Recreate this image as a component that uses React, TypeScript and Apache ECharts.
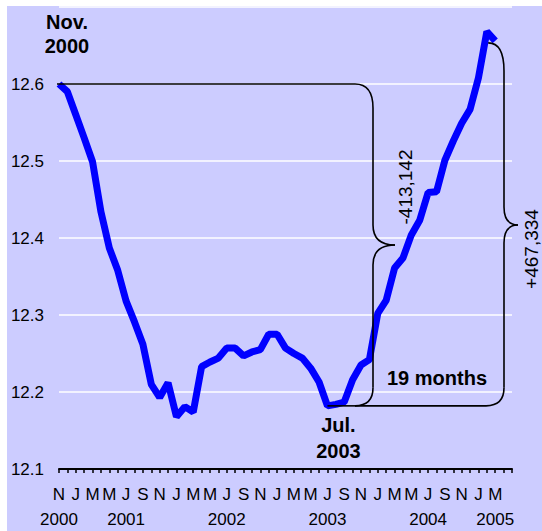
import React, { useEffect, useRef } from "react";
import * as echarts from "echarts";

const categories = [
  "Nov 2000", "Dec 2000",
  "Jan 2001", "Feb 2001", "Mar 2001", "Apr 2001", "May 2001", "Jun 2001", "Jul 2001", "Aug 2001", "Sep 2001", "Oct 2001", "Nov 2001", "Dec 2001",
  "Jan 2002", "Feb 2002", "Mar 2002", "Apr 2002", "May 2002", "Jun 2002", "Jul 2002", "Aug 2002", "Sep 2002", "Oct 2002", "Nov 2002", "Dec 2002",
  "Jan 2003", "Feb 2003", "Mar 2003", "Apr 2003", "May 2003", "Jun 2003", "Jul 2003", "Aug 2003", "Sep 2003", "Oct 2003", "Nov 2003", "Dec 2003",
  "Jan 2004", "Feb 2004", "Mar 2004", "Apr 2004", "May 2004", "Jun 2004", "Jul 2004", "Aug 2004", "Sep 2004", "Oct 2004", "Nov 2004", "Dec 2004",
  "Jan 2005", "Feb 2005", "Mar 2005", "Apr 2005", "May 2005",
];

// log values, Nov 2000 .. Mar 2005
const values = [
  12.600, 12.590, 12.560, 12.530, 12.499, 12.434, 12.387, 12.358, 12.318, 12.291,
  12.262, 12.210, 12.193, 12.212, 12.168, 12.181, 12.174, 12.233, 12.239, 12.244,
  12.257, 12.257, 12.247, 12.252, 12.255, 12.275, 12.275, 12.257, 12.250, 12.244,
  12.231, 12.213, 12.182, 12.184, 12.187, 12.216, 12.235, 12.242, 12.302, 12.319,
  12.361, 12.374, 12.404, 12.423, 12.459, 12.460, 12.501, 12.526, 12.549, 12.567,
  12.608, 12.668, 12.656,
];

const yearLabels: Record<string, string> = {
  "Nov 2000": "2000",
  "Jul 2001": "2001",
  "Jul 2002": "2002",
  "Jul 2003": "2003",
  "Jul 2004": "2004",
  "Mar 2005": "2005",
};

const startMonth = "Nov 2000";
const lowMonth = "Jul 2003";
const startLabel = ["Nov.", "2000"];
const lowLabel = ["Jul.", "2003"];
const declineText = "-413,142";
const riseText = "+467,334";
const spanText = "19 months";

const FONT = "'Liberation Sans', Arial, sans-serif";

export default function App() {
  const ref = useRef<HTMLDivElement>(null);
  useEffect(() => {
    if (!ref.current) return;
    const chart = echarts.init(ref.current, null, { renderer: "svg" });
    const lastIdx = values.length - 1;
    const labelBase = { color: "#000", fontSize: 17, fontFamily: FONT };
    chart.setOption({
      animation: false,
      backgroundColor: "#ffffff",
      grid: { left: 59, right: 30, top: 7, bottom: 62 },
      xAxis: [
        {
          type: "category",
          data: categories,
          boundaryGap: false,
          axisLine: { lineStyle: { color: "#000", width: 2 } },
          axisTick: { show: true, interval: 0, length: 4, lineStyle: { color: "#000", width: 1.5 } },
          axisLabel: {
            ...labelBase,
            interval: (i: number) => i % 2 === 0 && i <= lastIdx,
            showMinLabel: true,
            showMaxLabel: true,
            margin: 17,
            formatter: (v: string, idx: number) => (idx > lastIdx ? "" : v.charAt(0)),
          },
          splitLine: { show: false },
        },
        {
          type: "category",
          data: categories,
          boundaryGap: false,
          position: "bottom",
          axisLine: { show: false },
          axisTick: { show: false },
          axisLabel: {
            ...labelBase,
            interval: (i: number) => !!yearLabels[categories[i]],
            showMinLabel: true,
            showMaxLabel: true,
            margin: 42,
            formatter: (v: string) => yearLabels[v] || "",
          },
          splitLine: { show: false },
        },
      ],
      yAxis: {
        type: "value",
        min: 12.1,
        max: 12.7,
        interval: 0.1,
        axisLine: { show: false },
        axisTick: { show: false },
        axisLabel: {
          ...labelBase,
          margin: 15,
          showMaxLabel: false,
          formatter: (v: number) => v.toFixed(1),
        },
        splitLine: { lineStyle: { color: "#ffffff", width: 1.5 } },
      },
      series: [
        {
          type: "line",
          data: values,
          showSymbol: false,
          lineStyle: { color: "#0000ff", width: 7 },
          itemStyle: { color: "#0000ff" },
          z: 3,
        },
      ],
    });

    const toPx = (i: number, v: number) =>
      chart.convertToPixel({ xAxisIndex: 0, yAxisIndex: 0 }, [i, v]) as number[];
    const lowIdx = categories.indexOf(lowMonth);
    const startIdx = categories.indexOf(startMonth);
    const [xMin, yMin] = toPx(lowIdx, values[lowIdx]);
    const [x0, y126] = toPx(startIdx, values[startIdx]);
    const [xEnd, yEnd] = toPx(lastIdx, values[lastIdx]);

    const stroke = { stroke: "#000", lineWidth: 1.6, fill: null };
    const ln = (x1: number, y1: number, x2: number, y2: number) => ({
      type: "line", z: 10, silent: true, shape: { x1, y1, x2, y2 }, style: stroke,
    });
    const bz = (x1: number, y1: number, cx: number, cy: number, x2: number, y2: number) => ({
      type: "bezierCurve", z: 10, silent: true,
      shape: { x1, y1, x2, y2, cpx1: cx, cpy1: cy }, style: stroke,
    });
    const txt = (text: string, x: number, y: number, size: number, bold: boolean, rot = 0) => ({
      type: "text", z: 11, silent: true, x, y, rotation: rot,
      style: {
        text, fill: "#000", fontSize: size, fontWeight: bold ? "bold" : "normal",
        fontFamily: FONT, align: "center", verticalAlign: "middle",
      },
    });

    const xL = 373, tipL = 395, yTipL = 245;
    const xR = 504, tipR = 518, yTipR = 225;

    chart.setOption({
      graphic: [
        { type: "rect", z: -100, silent: true, shape: { x: 7, y: 6, width: 542, height: 531 }, style: { fill: "#ccccff" } },
        // left brace
        ln(x0 - 2, y126, 355, y126),
        bz(355, y126, xL, y126, xL, y126 + 24),
        ln(xL, y126 + 24, xL, yTipL - 20),
        bz(xL, yTipL - 20, xL, yTipL, tipL, yTipL),
        bz(tipL, yTipL, xL, yTipL, xL, yTipL + 20),
        ln(xL, yTipL + 20, xL, yMin - 18),
        bz(xL, yMin - 18, xL, yMin, 355, yMin),
        ln(355, yMin, xMin, yMin),
        // right brace
        bz(xEnd - 7, yEnd + 2, xR, yEnd + 2, xR, yEnd + 30),
        ln(xR, yEnd + 30, xR, yTipR - 18),
        bz(xR, yTipR - 18, xR, yTipR, tipR, yTipR),
        bz(tipR, yTipR, xR, yTipR, xR, yTipR + 18),
        ln(xR, yTipR + 18, xR, yMin - 18),
        bz(xR, yMin - 18, xR, yMin, xR - 18, yMin),
        ln(xR - 18, yMin, 355, yMin),
        // texts
        txt(startLabel[0], 67, 22, 20, true),
        txt(startLabel[1], 67, 46, 20, true),
        txt(lowLabel[0], xMin + 11, 425, 20, true),
        txt(lowLabel[1], xMin + 11, 451, 20, true),
        txt(spanText, 437, 378, 20, true),
        txt(declineText, 405, 187, 19, false, Math.PI / 2),
        txt(riseText, 531, 249, 19, false, Math.PI / 2),
      ],
    });

    return () => chart.dispose();
  }, []);
  return (
    <div
      ref={ref}
      style={{ position: "fixed", left: 0, top: 0, width: 542, height: 531 }}
    />
  );
}
